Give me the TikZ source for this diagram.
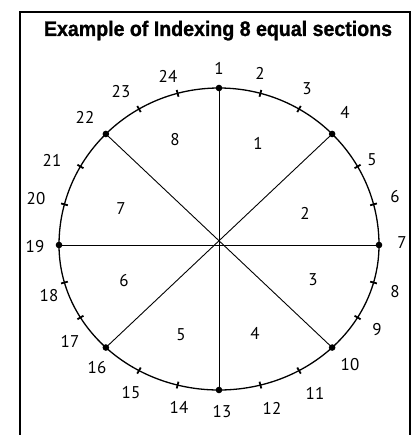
\documentclass[tikz,border=0pt]{standalone}
\usepackage{fontspec}
\setmainfont{PT Sans}
\newfontfamily\titlefont[FakeBold=1.2]{Liberation Sans}
\usetikzlibrary{calc}
\begin{document}
\begin{tikzpicture}[x=1pt,y=-1pt,
  lab/.style={font=\fontsize{17}{17}\selectfont, inner sep=0pt},
  rim/.style={line width=1.3pt},
  spoke/.style={line width=0.9pt},
  tickmark/.style={line width=1.8pt},
  dot/.style={circle, fill, inner sep=0pt, minimum size=6.6pt},
  frame/.style={line width=2pt}]
\useasboundingbox (0,0) rectangle (414,435);
\fill[white] (0,0) rectangle (414,435);
\draw[frame] (20,440) -- (20,12) -- (410,12) -- (410,440);
\node[inner sep=0pt, anchor=base] (title) at (218,36)
  {\resizebox{348pt}{\height}{\titlefont\bfseries\fontsize{21}{21}\selectfont Example of Indexing 8 equal sections}};
\coordinate (c) at (219,245);
\draw[rim] ($(c)+(160pt,0)$) arc[start angle=0,end angle=180,x radius=160pt,y radius=157pt]
  arc[start angle=180,end angle=360,x radius=160pt,y radius=145pt] -- cycle;
\foreach \k in {1,...,24} {
  \pgfmathsetmacro\th{90-15*(\k-1)}
  \pgfmathsetmacro\ry{ifthenelse(sin(\th)>=0,157,145)}
  \pgfmathsetmacro\ryi{\ry-3.5}
  \pgfmathsetmacro\ryo{\ry+3.5}
  \coordinate (p\k) at ($(c)+(\th:160pt and \ry pt)$);
  \pgfmathtruncatemacro\m{mod(\k-1,3)}
  \ifnum\m=0\relax
  \else
    \draw[tickmark] ($(c)+(\th:156.5pt and \ryi pt)$) -- ($(c)+(\th:163.5pt and \ryo pt)$);
  \fi
}
\draw[spoke] (p1) -- (p13);
\draw[spoke] (p4) -- (p16);
\draw[spoke] (p7) -- (p19);
\draw[spoke] (p10) -- (p22);
\foreach \k in {1,4,7,10,13,16,19,22} { \node[dot] (d\k) at (p\k) {}; }
% outer numbers
\foreach \k/\x/\y in {1/219/68, 2/260/73, 3/307/89, 4/345/112, 5/372/160, 6/395/197,
  7/402/243, 8/395/292, 9/377/330, 10/350/365, 11/315/393, 12/272/408,
  13/222/412, 14/179/407, 15/131/393, 16/97/368, 17/70/341, 18/49/296,
  19/35/247, 20/36/199, 21/52/160, 22/85/117, 23/121/92, 24/168/76} {
  \node[lab] (n\k) at (\x,\y) {\k};
}
% section numbers
\foreach \k/\x/\y in {1/258/143, 2/305/213, 3/313/280, 4/255/333,
  5/181/335, 6/124/281, 7/121/209, 8/175/140} {
  \node[lab] (s\k) at (\x,\y) {\k};
}
\end{tikzpicture}
\end{document}
